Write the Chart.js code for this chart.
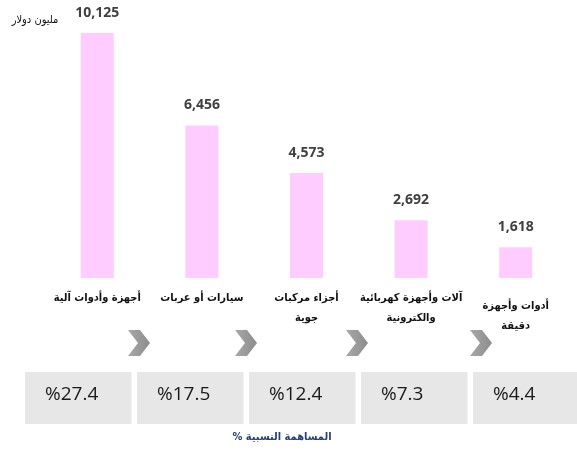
<!DOCTYPE html>
<html>
<head>
<meta charset="utf-8">
<script src="https://cdn.jsdelivr.net/npm/chart.js@4"></script>
<style>
  html, body { margin: 0; padding: 0; background: #fff; }
  #wrap { width: 577px; height: 455px; }
</style>
</head>
<body>
<div id="wrap"><canvas id="chart" width="577" height="455"></canvas></div>
<script>
// Data
const categories = [
  ['أجهزة وأدوات آلية'],
  ['سيارات أو عربات'],
  ['أجزاء مركبات', 'جوية'],
  ['آلات وأجهزة كهربائية', 'والكترونية'],
  ['أدوات وأجهزة', 'دقيقة']
];
const values = [10125, 6456, 4573, 2692, 1618];
const shares = [27.4, 17.5, 12.4, 7.3, 4.4];
const unitLabel = 'مليون دولار';
const shareTitle = 'المساهمة النسبية %';

const arabicFont = '"DejaVu Sans Condensed", "DejaVu Sans", sans-serif';

// Labels above bars
const valueLabels = {
  id: 'valueLabels',
  afterDatasetsDraw(chart) {
    const ctx = chart.ctx;
    const meta = chart.getDatasetMeta(0);
    ctx.save();
    ctx.font = 'bold 14px "Open Sans", sans-serif';
    ctx.fillStyle = '#404040';
    ctx.textAlign = 'center';
    ctx.textBaseline = 'alphabetic';
    meta.data.forEach((bar, i) => {
      ctx.fillText(values[i].toLocaleString('en-US'), bar.x, bar.y - 16);
    });
    ctx.restore();
  }
};

// Category names, chevrons, share boxes, titles
const extras = {
  id: 'extras',
  afterDraw(chart) {
    const ctx = chart.ctx;
    const x = chart.scales.x;
    const shift = [0, 0, 0, 0, 8];
    ctx.save();

    // category labels
    ctx.direction = 'rtl';
    ctx.textAlign = 'center';
    ctx.textBaseline = 'middle';
    ctx.fillStyle = '#111';
    ctx.font = 'bold 11px ' + arabicFont;
    categories.forEach((lines, i) => {
      const cx = x.getPixelForValue(i);
      lines.forEach((line, j) => {
        ctx.fillText(line, cx, 298 + shift[i] + j * 20);
      });
    });

    // unit label
    ctx.font = '11px ' + arabicFont;
    ctx.fillText(unitLabel, 35, 20);

    // chevrons
    const chevX = [128, 235, 346, 470];
    chevX.forEach(cx => {
      const y0 = 330, h = 26;
      const g = ctx.createLinearGradient(cx, 0, cx + 22, 0);
      g.addColorStop(0, '#a8a8a8');
      g.addColorStop(1, '#8c8c8c');
      ctx.fillStyle = g;
      ctx.beginPath();
      ctx.moveTo(cx, y0);
      ctx.lineTo(cx + 12, y0);
      ctx.lineTo(cx + 22, y0 + h / 2);
      ctx.lineTo(cx + 12, y0 + h);
      ctx.lineTo(cx, y0 + h);
      ctx.lineTo(cx + 10, y0 + h / 2);
      ctx.closePath();
      ctx.fill();
    });

    // share boxes
    ctx.direction = 'ltr';
    shares.forEach((s, i) => {
      const bx = 25 + i * 112;
      ctx.fillStyle = '#e7e7e7';
      ctx.fillRect(bx, 372, 106.5, 52);
      ctx.fillStyle = '#1a1a1a';
      ctx.font = '19px "Open Sans", sans-serif';
      ctx.textAlign = 'left';
      ctx.fillText('%' + s.toFixed(1), bx + 20, 395);
    });

    // share title
    ctx.direction = 'rtl';
    ctx.textAlign = 'center';
    ctx.fillStyle = '#2a4170';
    ctx.font = 'bold 11px ' + arabicFont;
    ctx.fillText(shareTitle, 282, 437);

    ctx.restore();
  }
};

new Chart(document.getElementById('chart'), {
  type: 'bar',
  data: {
    labels: categories,
    datasets: [{
      data: values,
      backgroundColor: '#ffccff',
      borderWidth: 0,
      barPercentage: 0.316,
      categoryPercentage: 1
    }]
  },
  options: {
    responsive: false,
    animation: false,
    layout: { padding: { left: 45, right: 9, top: 11, bottom: 177 } },
    plugins: { legend: { display: false }, tooltip: { enabled: false } },
    scales: {
      x: { display: false },
      y: { display: false, min: 400, max: 11000 }
    }
  },
  plugins: [valueLabels, extras]
});
</script>
</body>
</html>
